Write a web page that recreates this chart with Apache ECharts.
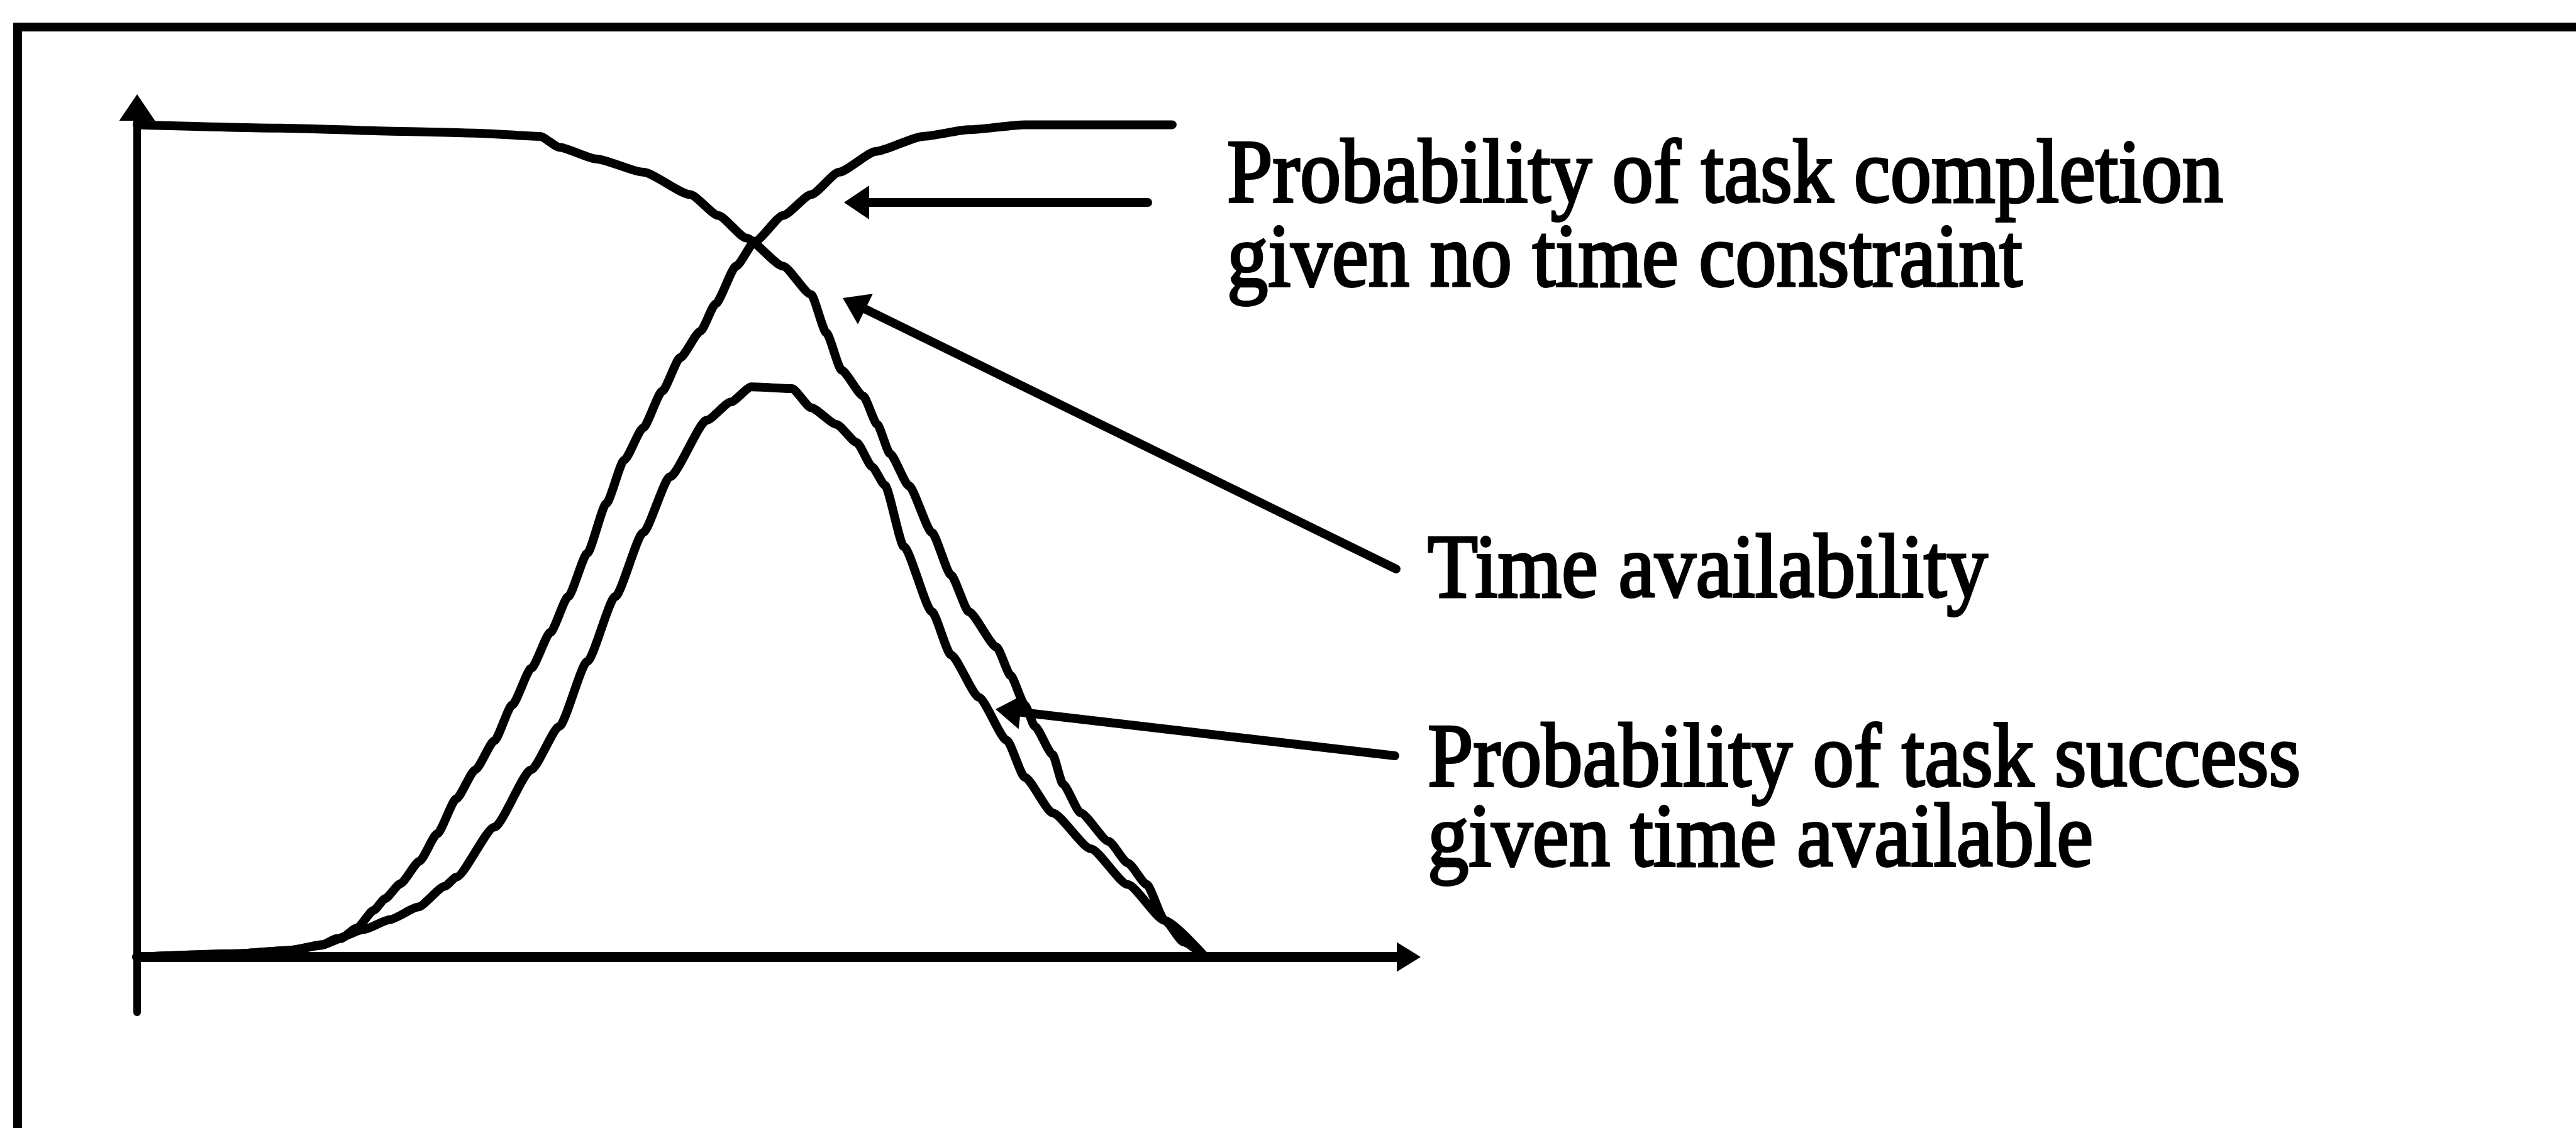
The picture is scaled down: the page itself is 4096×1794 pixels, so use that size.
<!DOCTYPE html>
<html>
<head>
<meta charset="utf-8">
<title>Time availability and task success</title>
<script src="https://cdn.jsdelivr.net/npm/echarts@6/dist/echarts.min.js"></script>
<style>
  html, body { margin: 0; padding: 0; background: #ffffff; overflow: hidden; }
  #chart { width: 4096px; height: 1794px; }
</style>
</head>
<body>
<div id="chart"></div>
<script>
// Curves as [time, probability] pairs; time runs 0..100 along the horizontal axis.
const completionCurve = [
  [0, 0], [8, 0.004], [12, 0.008], [14.5, 0.014], [16, 0.022], [17.3, 0.035],
  [18.6, 0.056], [19.5, 0.07], [20.7, 0.088], [22.2, 0.115], [23.6, 0.148],
  [25.1, 0.19], [26.6, 0.225], [28.1, 0.26], [29.5, 0.303], [31, 0.347],
  [32.5, 0.39], [33.9, 0.433], [35.4, 0.485], [36.9, 0.545], [38.3, 0.597],
  [39.8, 0.636], [41.3, 0.68], [42.7, 0.72], [44.3, 0.752], [45.5, 0.785],
  [47.1, 0.83], [48.6, 0.86], [50.8, 0.891], [53, 0.916], [55.2, 0.943],
  [58.1, 0.968], [61.8, 0.986], [65.4, 0.994], [69.8, 1.0], [81.4, 1.0]
];

const timeAvailabilityCurve = [
  [0, 1.0], [11.2, 0.996], [20.7, 0.992], [26.6, 0.99], [31.7, 0.986],
  [33.2, 0.973], [36.1, 0.959], [39.8, 0.943], [43.5, 0.916], [45.7, 0.891],
  [47.9, 0.864], [50.8, 0.83], [53, 0.796], [54.2, 0.75], [55.4, 0.705],
  [57.1, 0.674], [58.2, 0.64], [59.2, 0.605], [60.7, 0.566], [62.5, 0.51],
  [64, 0.459], [65.4, 0.415], [67.6, 0.372], [68.7, 0.338], [69.8, 0.303],
  [70.6, 0.277], [72, 0.243], [72.8, 0.208], [74.2, 0.173], [76.4, 0.139],
  [77.9, 0.113], [79.4, 0.087], [80.8, 0.044], [82.3, 0.018], [84, 0]
];

const successCurve = [
  [0, 0], [8, 0.004], [12, 0.008], [14.6, 0.015], [15.7, 0.022], [17.8, 0.033],
  [19.9, 0.045], [22.1, 0.06], [24.2, 0.085], [25.1, 0.096], [28.1, 0.156],
  [31, 0.225], [33.2, 0.277], [35.4, 0.355], [37.6, 0.433], [39.8, 0.51],
  [41.9, 0.577], [44.8, 0.645], [46.7, 0.667], [48.3, 0.685], [51.5, 0.683],
  [53, 0.66], [55, 0.64], [56.6, 0.618], [57.8, 0.589], [58.8, 0.567],
  [60.3, 0.493], [62.5, 0.415], [64, 0.363], [66.2, 0.312], [68.4, 0.26],
  [69.8, 0.216], [72, 0.173], [75, 0.13], [77.9, 0.087], [80.8, 0.044], [84, 0]
];

const seriesNames = [
  'Probability of task completion given no time constraint',
  'Time availability',
  'Probability of task success given time available'
];

// Axis ranges: the vertical axis runs a little below zero so its line
// continues under the horizontal axis.
const timeRange = [0, 100];
const probabilityRange = [-0.0665, 1.0207];

// Callout text lines
const completionLabel = ['Probability of task completion', 'given no time constraint'];
const timeLabel = ['Time availability'];
const successLabel = ['Probability of task success', 'given time available'];

// ---------------------------------------------------------------------------
const INK = '#000000';
const FONT = '145px "Liberation Serif", "Times New Roman", serif';
const TEXT_SCALE_X = 0.9;
const BASELINE_TO_MIDDLE = 46;

function arrowHead(tip, tail, len, width) {
  const dx = tail[0] - tip[0], dy = tail[1] - tip[1];
  const d = Math.hypot(dx, dy);
  const ux = dx / d, uy = dy / d;
  const bx = tip[0] + ux * len, by = tip[1] + uy * len;
  const nx = -uy * width / 2, ny = ux * width / 2;
  return {
    type: 'polygon', z: 50,
    shape: { points: [[tip[0], tip[1]], [bx + nx, by + ny], [bx - nx, by - ny]] },
    style: { fill: INK }
  };
}

function pointer(tip, tail) {
  const dx = tail[0] - tip[0], dy = tail[1] - tip[1];
  const d = Math.hypot(dx, dy);
  const sx = tip[0] + dx / d * 30, sy = tip[1] + dy / d * 30;
  return [
    { type: 'line', z: 50, shape: { x1: sx, y1: sy, x2: tail[0], y2: tail[1] },
      style: { stroke: INK, lineWidth: 14, lineCap: 'round' } },
    arrowHead(tip, tail, 40, 54)
  ];
}

function textLine(str, x, baseline) {
  return {
    type: 'text', z: 60, x: x, y: baseline - BASELINE_TO_MIDDLE, scaleX: TEXT_SCALE_X,
    style: {
      text: str, font: FONT, fill: INK, stroke: INK, lineWidth: 4,
      align: 'left', verticalAlign: 'middle'
    }
  };
}

const graphics = [
  // outer frame: its left and top sides
  { type: 'line', z: 40, shape: { x1: 28, y1: 36, x2: 28, y2: 1794 },
    style: { stroke: INK, lineWidth: 14 } },
  { type: 'line', z: 40, shape: { x1: 21, y1: 43, x2: 4096, y2: 43 },
    style: { stroke: INK, lineWidth: 14 } },
  ...pointer([1342, 322], [1825, 322]),
  ...pointer([1340, 474], [2220, 905]),
  ...pointer([1583, 1128], [2218, 1202]),
  textLine(completionLabel[0], 1951, 329),
  textLine(completionLabel[1], 1951, 463),
  textLine(timeLabel[0], 2270, 957),
  textLine(successLabel[0], 2270, 1258),
  textLine(successLabel[1], 2270, 1385)
];

function curveSeries(name, data) {
  return {
    name: name, type: 'line', data: data, showSymbol: false, symbol: 'none',
    smooth: 0.2, smoothMonotone: 'x', clip: false, silent: true,
    lineStyle: { color: INK, width: 14, cap: 'round', join: 'round' },
    z: 10
  };
}

const chart = echarts.init(document.getElementById('chart'), null, { renderer: 'canvas' });
chart.setOption({
  animation: false,
  backgroundColor: '#ffffff',
  grid: { left: 218, top: 171, right: 1856, bottom: 184, containLabel: false },
  xAxis: {
    type: 'value', min: timeRange[0], max: timeRange[1],
    axisLine: { show: true, onZero: true,
      symbol: ['none', 'triangle'], symbolSize: [47, 38],
      lineStyle: { color: INK, width: 16 } },
    axisTick: { show: false }, axisLabel: { show: false }, splitLine: { show: false }
  },
  yAxis: {
    type: 'value', min: probabilityRange[0], max: probabilityRange[1],
    axisLine: { show: true, onZero: false,
      symbol: ['none', 'triangle'], symbolSize: [57, 42],
      lineStyle: { color: INK, width: 12 } },
    axisTick: { show: false }, axisLabel: { show: false }, splitLine: { show: false }
  },
  series: [
    curveSeries(seriesNames[0], completionCurve),
    curveSeries(seriesNames[1], timeAvailabilityCurve),
    curveSeries(seriesNames[2], successCurve)
  ],
  graphic: { elements: graphics }
});
</script>
</body>
</html>
